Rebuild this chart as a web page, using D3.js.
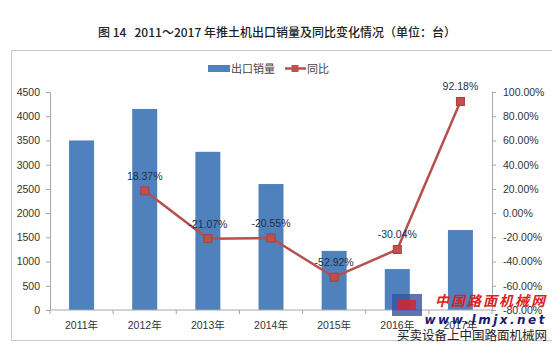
<!DOCTYPE html>
<html><head><meta charset="utf-8">
<script src="https://cdn.jsdelivr.net/npm/d3@7"></script>
<style>body{margin:0;background:#fff}svg{display:block}text{white-space:pre}</style>
</head><body>
<script>
const categories = ["2011年","2012年","2013年","2014年","2015年","2016年","2017年"];
const exportSales = [3500, 4150, 3265, 2600, 1220, 845, 1650];
const yoy = [null, 18.37, -21.07, -20.55, -52.92, -30.04, 92.18];
const yoyLabels = ["", "18.37%", "-21.07%", "-20.55%", "-52.92%", "-30.04%", "92.18%"];
const leftTicks = [0,500,1000,1500,2000,2500,3000,3500,4000,4500];
const rightTicks = [-80,-60,-40,-20,0,20,40,60,80,100];
const title = "图 14   2011～2017 年推土机出口销量及同比变化情况（单位：台）";
const legendNames = ["出口销量", "同比"];

const W = 552, H = 344;
const svg = d3.select("body").append("svg").attr("width", W).attr("height", H);
const font = "'Liberation Sans','Noto Sans CJK SC',sans-serif";

svg.append("text").attr("x", 277).attr("y", 37).attr("text-anchor","middle")
  .attr("font-family", "'Noto Sans CJK SC',sans-serif").attr("font-size", 12).attr("font-weight", 500)
  .attr("fill", "#222").text(title);

// chart border
svg.append("rect").attr("x", 11.5).attr("y", 50.5).attr("width", 560).attr("height", 290)
  .attr("fill","none").attr("stroke","#c8c8c8");

const xb = d3.scaleBand().domain(categories).range([50, 492]);
const yL = d3.scaleLinear().domain([0, 4500]).range([310, 92]);
const yR = d3.scaleLinear().domain([-80, 100]).range([310, 92]);

// bars
svg.selectAll(".bar").data(categories).enter().append("rect")
  .attr("x", d => xb(d) + xb.bandwidth()/2 - 12.5).attr("width", 25)
  .attr("y", (d,i) => yL(exportSales[i])).attr("height", (d,i) => yL(0) - yL(exportSales[i]))
  .attr("fill", "#4f81bd");

// left axis
const axL = svg.append("g").attr("transform","translate(50,0)")
  .call(d3.axisLeft(yL).tickValues(leftTicks).tickSize(4).tickPadding(6).tickFormat(d3.format("d")));
axL.select(".domain").attr("stroke","#a6a6a6");
axL.selectAll(".tick line").attr("stroke","#a6a6a6");
axL.selectAll("text").attr("font-family", font).attr("font-size", 10.5).attr("fill","#333");

// right axis
const axR = svg.append("g").attr("transform","translate(492,0)")
  .call(d3.axisRight(yR).tickValues(rightTicks).tickSize(4).tickPadding(7).tickFormat(d => d.toFixed(2) + "%"));
axR.select(".domain").attr("stroke","#a6a6a6");
axR.selectAll(".tick line").attr("stroke","#a6a6a6");
axR.selectAll("text").attr("font-family", font).attr("font-size", 10.5).attr("fill","#333");

// x axis
const axX = svg.append("g").attr("transform","translate(0,310)");
axX.append("line").attr("x1",50).attr("x2",492).attr("stroke","#a6a6a6");
axX.selectAll(".tk").data(d3.range(categories.length+1)).enter().append("line")
  .attr("x1", i => 50 + i*xb.bandwidth()).attr("x2", i => 50 + i*xb.bandwidth())
  .attr("y1",0).attr("y2",4).attr("stroke","#a6a6a6");
axX.selectAll(".lb").data(categories).enter().append("text")
  .attr("x", d => xb(d) + xb.bandwidth()/2).attr("y", 19).attr("text-anchor","middle")
  .attr("font-family", font).attr("font-size", 10.5).attr("fill","#333").text(d => d);

// line
const pts = categories.map((c,i) => ({c, v: yoy[i], l: yoyLabels[i]})).filter(d => d.v !== null);
const line = d3.line().x(d => xb(d.c) + xb.bandwidth()/2).y(d => yR(d.v));
svg.append("path").datum(pts).attr("d", line).attr("fill","none")
  .attr("stroke","#b5504f").attr("stroke-width", 2.5);
svg.selectAll(".mk").data(pts).enter().append("rect")
  .attr("x", d => xb(d.c) + xb.bandwidth()/2 - 4).attr("y", d => yR(d.v) - 4)
  .attr("width", 8).attr("height", 8).attr("fill","#c0504d").attr("stroke","#a5403d");
svg.selectAll(".dl").data(pts).enter().append("text")
  .attr("x", d => xb(d.c) + xb.bandwidth()/2).attr("y", d => yR(d.v) - 11)
  .attr("text-anchor","middle").attr("font-family", font).attr("font-size", 10.5)
  .attr("fill","#1f2f45").text(d => d.l);

// legend
const lg = svg.append("g");
lg.append("rect").attr("x", 208).attr("y", 65).attr("width", 22).attr("height", 7).attr("fill","#4f81bd");
lg.append("text").attr("x", 231).attr("y", 72.5).attr("font-family","'Noto Sans CJK SC',sans-serif")
  .attr("font-size", 11).attr("fill","#444").text(legendNames[0]);
lg.append("line").attr("x1", 285).attr("x2", 306).attr("y1", 68.5).attr("y2", 68.5)
  .attr("stroke","#b5504f").attr("stroke-width", 2.5);
lg.append("rect").attr("x", 291.5).attr("y", 65).attr("width", 7).attr("height", 7).attr("fill","#c0504d");
lg.append("text").attr("x", 307).attr("y", 72.5).attr("font-family","'Noto Sans CJK SC',sans-serif")
  .attr("font-size", 11).attr("fill","#444").text(legendNames[1]);

// watermark
const wm = svg.append("g");
wm.append("rect").attr("x", 392).attr("y", 294).attr("width", 30).attr("height", 22).attr("fill","#3a4fa0").attr("opacity",0.8);
wm.append("rect").attr("x", 398).attr("y", 300).attr("width", 18).attr("height", 10).attr("fill","#e02020").attr("opacity",0.8);
wm.append("text").attr("x", 547).attr("y", 306).attr("text-anchor","end").attr("font-family","'Noto Sans CJK SC',sans-serif")
  .attr("font-size", 14).attr("font-weight","bold").attr("font-style","italic").attr("fill","#e02020")
  .attr("letter-spacing", 2).text("中国路面机械网");
wm.append("text").attr("x", 547).attr("y", 324).attr("text-anchor","end").attr("font-family","'DejaVu Sans',sans-serif")
  .attr("font-size", 12).attr("font-weight","bold").attr("font-style","italic").attr("fill","#1a1a6e")
  .attr("letter-spacing", 2.5).text("www.lmjx.net");
wm.append("text").attr("x", 547).attr("y", 340).attr("text-anchor","end").attr("font-family","'Noto Sans CJK SC',sans-serif")
  .attr("font-size", 12.5).attr("fill","#222").text("买卖设备上中国路面机械网");
</script>
</body></html>
